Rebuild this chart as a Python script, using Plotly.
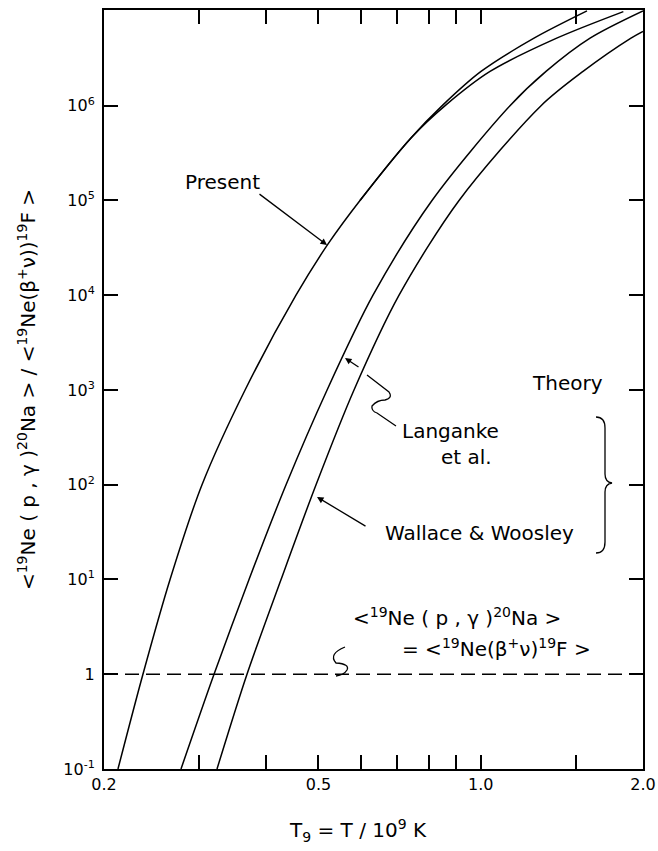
import math
import plotly.graph_objects as go

# ---- data (T9, rate ratio) ----
present_T = [0.2123, 0.2362, 0.2652, 0.3040, 0.3654, 0.4542, 0.5209, 0.5970, 0.7423, 0.8511, 1.0012, 1.2556, 1.5743]
present_R = [0.1, 1, 10, 100, 1e3, 1e4, 3.48e4, 1e5, 4.57e5, 1.02e6, 2.30e6, 5.16e6, 1.0e7]

present_alt_T = [0.5970, 0.7423, 0.8621, 1.0405, 1.3833, 1.8390]
present_alt_R = [1e5, 4.57e5, 1.02e6, 2.30e6, 5.16e6, 9.84e6]

langanke_T = [0.2779, 0.3200, 0.3716, 0.4353, 0.5187, 0.6311, 0.8120, 1.1331, 1.3216, 1.5952, 2.0]
langanke_R = [0.1, 1, 10, 100, 1e3, 1e4, 1e5, 1e6, 2.30e6, 5.16e6, 1.0e7]

wallace_T = [0.3241, 0.3684, 0.4261, 0.4948, 0.5819, 0.7054, 0.9115, 1.2938, 1.5481, 1.9000, 2.0]
wallace_R = [0.1, 1, 10, 100, 1e3, 1e4, 1e5, 1e6, 2.30e6, 5.16e6, 6.08e6]

equal_T = [0.2, 2.0]
equal_R = [1.0, 1.0]

x_tickvals = [0.2, 0.3, 0.4, 0.5, 0.6, 0.7, 0.8, 0.9, 1.0, 1.5, 2.0]
x_ticktext = ["0.2", "", "", "0.5", "", "", "", "", "1.0", "", "2.0"]
y_tickvals = [0.1, 1, 10, 100, 1e3, 1e4, 1e5, 1e6]
y_ticktext = ["10<sup>-1</sup>", "1", "10<sup>1</sup>", "10<sup>2</sup>", "10<sup>3</sup>",
              "10<sup>4</sup>", "10<sup>5</sup>", "10<sup>6</sup>"]

W, H = 658, 851
ML, MR, MT, MB = 104, 15, 10, 82
PW, PH = W - ML - MR, H - MT - MB
FONT = "DejaVu Sans"


def px(x):
    return (x - ML) / PW


def py(y):
    return (H - MB - y) / PH


fig = go.Figure()
line = dict(color="black", width=1.5, shape="spline", smoothing=0.85)
for xs, ys in [(present_T, present_R), (present_alt_T, present_alt_R),
               (langanke_T, langanke_R), (wallace_T, wallace_R)]:
    fig.add_trace(go.Scatter(x=xs, y=ys, mode="lines", line=line, showlegend=False, hoverinfo="skip"))
fig.add_trace(go.Scatter(x=equal_T, y=equal_R, mode="lines",
                         line=dict(color="black", width=1.5, dash="14px,7px"),
                         showlegend=False, hoverinfo="skip"))

axis_common = dict(showline=True, linecolor="black", linewidth=2, mirror="ticks",
                   ticks="inside", ticklen=14, tickwidth=1.5, tickcolor="black",
                   showgrid=False, zeroline=False,
                   tickfont=dict(family=FONT, size=16, color="black"))

fig.update_xaxes(type="log", range=[math.log10(0.2), math.log10(2.0)],
                 tickmode="array", tickvals=x_tickvals, ticktext=x_ticktext,
                 **axis_common)
fig.update_yaxes(type="log", range=[-1, 7.01],
                 tickmode="array", tickvals=y_tickvals, ticktext=y_ticktext,
                 ticklabelstandoff=4,
                 title=dict(text="&lt;<sup>19</sup>Ne ( p , γ )<sup>20</sup>Na &gt; / &lt;<sup>19</sup>Ne(β<sup>+</sup>ν))<sup>19</sup>F &gt;",
                            font=dict(family=FONT, size=20, color="black"), standoff=22),
                 **axis_common)

# x-axis title (placed as in the reference, slightly left of centre)
fig.add_annotation(text="T<sub>9</sub> = T / 10<sup>9</sup> K", x=px(358), y=py(830),
                   xref="paper", yref="paper", showarrow=False,
                   font=dict(family=FONT, size=20, color="black"),
                   xanchor="center", yanchor="middle")

ann_font = dict(family=FONT, size=20, color="black")
texts = [
    ("Present", 222, 182),
    ("Theory", 567, 383),
    ("Langanke", 450, 431),
    ("et al.", 466, 457),
    ("Wallace &amp; Woosley", 480, 533),
    ("&lt;<sup>19</sup>Ne ( p , γ )<sup>20</sup>Na &gt;", 457, 617),
    ("= &lt;<sup>19</sup>Ne(β<sup>+</sup>ν)<sup>19</sup>F &gt;", 496, 648),
]
for t, x, y in texts:
    fig.add_annotation(text=t, x=px(x), y=py(y), xref="paper", yref="paper",
                       showarrow=False, font=ann_font, xanchor="center", yanchor="middle")

arrows = [((327, 245), (258, 193)), ((345, 358), (360, 368)), ((317, 497), (367, 527))]
for (tx, ty), (sx, sy) in arrows:
    fig.add_annotation(text="", x=px(tx), y=py(ty), xref="paper", yref="paper",
                       showarrow=True, ax=sx - tx, ay=sy - ty, axref="pixel", ayref="pixel",
                       arrowhead=2, arrowsize=1, arrowwidth=1.3, arrowcolor="black", standoff=0)


def path(pts_cmds):
    out = []
    for c, pts in pts_cmds:
        out.append(c + " " + " ".join(f"{px(a):.5f},{py(b):.5f}" for a, b in pts))
    return " ".join(out)


squiggle_lang = path([("M", [(367, 375)]), ("L", [(389, 392)]),
                      ("Q", [(393, 398), (385, 400)]), ("Q", [(377, 400), (372, 406)]),
                      ("Q", [(371, 411), (377, 413)]), ("L", [(396, 426)])])
brace = path([("M", [(596, 417)]), ("Q", [(605, 417), (605, 428)]), ("L", [(605, 474)]),
              ("Q", [(605, 482), (612, 483)]), ("Q", [(605, 484), (605, 492)]),
              ("L", [(605, 542)]), ("Q", [(605, 553), (596, 553)])])
squiggle_eq = path([("M", [(345, 647)]), ("Q", [(328, 654), (336, 663)]),
                    ("Q", [(350, 664), (347, 670)]), ("Q", [(344, 675), (336, 676)])])
for p in [squiggle_lang, brace, squiggle_eq]:
    fig.add_shape(type="path", path=p, xref="paper", yref="paper",
                  line=dict(color="black", width=1.3))

fig.update_layout(width=W, height=H, margin=dict(l=ML, r=MR, t=MT, b=MB, autoexpand=False),
                  paper_bgcolor="white", plot_bgcolor="white", showlegend=False)

fig.write_html("out.html")
